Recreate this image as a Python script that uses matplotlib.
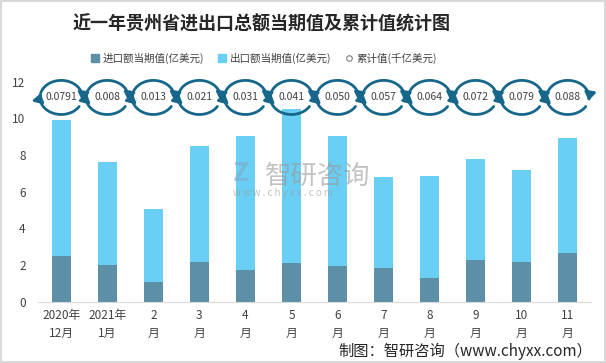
import numpy as np
import matplotlib
matplotlib.use('Agg')
import matplotlib.pyplot as plt
from matplotlib.patches import Patch, FancyArrowPatch, Rectangle
from matplotlib.lines import Line2D
from matplotlib.path import Path

plt.rcParams['font.family'] = ['Noto Sans CJK SC', 'DejaVu Sans']

# data
months = ['2020年\n12月', '2021年\n1月', '2\n月', '3\n月', '4\n月', '5\n月',
          '6\n月', '7\n月', '8\n月', '9\n月', '10\n月', '11\n月']
imports = [2.49, 2.00, 1.07, 2.17, 1.73, 2.11, 1.95, 1.84, 1.29, 2.27, 2.17, 2.66]
totals = [9.91, 7.62, 5.06, 8.49, 9.04, 10.51, 9.04, 6.80, 6.86, 7.79, 7.19, 8.93]
exports = [t - i for t, i in zip(totals, imports)]
cumulative = ['0.0791', '0.008', '0.013', '0.021', '0.031', '0.041',
              '0.050', '0.057', '0.064', '0.072', '0.079', '0.088']
ring_y = 11.14  # cumulative markers sit on one row above the bars

c_imp = '#5d8fa7'
c_exp = '#69cff5'
c_ring = '#17678a'
c_text = '#404040'

fig = plt.figure(figsize=(6.06, 3.63), dpi=100)
ax = fig.add_axes([0.063, 0.169, 0.912, 0.606])

x = np.arange(len(months))
ax.bar(x, imports, width=0.41, color=c_imp, zorder=2)
ax.bar(x, exports, width=0.41, bottom=imports, color=c_exp, zorder=2)

# circular-arrow markers with the cumulative values
rx, ry = 0.46, 0.93
for xi, lab in zip(x, cumulative):
    for a0, a1 in [(165, -10), (-32, -194)]:
        t = np.radians(np.linspace(a0, a1, 40))
        verts = np.column_stack([xi + rx * np.cos(t), ring_y + ry * np.sin(t)])
        arr = FancyArrowPatch(path=Path(verts), arrowstyle='-|>,head_length=0.45,head_width=0.32',
                              mutation_scale=10, lw=2.0, color=c_ring, clip_on=False, zorder=3)
        ax.add_patch(arr)
    ax.text(xi, ring_y, lab, ha='center', va='center', fontsize=7.5,
            color=c_text, zorder=4, clip_on=False)

ax.set_xlim(-0.5, len(months) - 0.5)
ax.set_ylim(0, 12)
ax.set_yticks(range(0, 13, 2))
ax.set_xticks(x)
ax.set_xticklabels(months, fontsize=8.5, color=c_text, linespacing=1.5)
ax.tick_params(axis='y', labelsize=8.5, labelcolor=c_text, length=0, pad=9)
ax.tick_params(axis='x', length=0, pad=5)
for s in ['top', 'right', 'left']:
    ax.spines[s].set_visible(False)
ax.spines['bottom'].set_color('#d9d9d9')

fig.text(0.431, 0.935, '近一年贵州省进出口总额当期值及累计值统计图', ha='center', va='center',
         fontsize=13, fontweight='bold', color='#262626')

handles = [Patch(color=c_imp), Patch(color=c_exp),
           Line2D([], [], marker='o', ls='none', markersize=4, markerfacecolor='white',
                  markeredgecolor='#7f7f7f', markeredgewidth=0.8)]
labels = ['进口额当期值(亿美元)', '出口额当期值(亿美元)', '累计值(千亿美元)']
fig.legend(handles, labels, loc='center', bbox_to_anchor=(0.436, 0.84), ncol=3,
           frameon=False, fontsize=7.6, handlelength=0.7, handleheight=0.7,
           handletextpad=0.4, columnspacing=1.3, labelcolor=c_text)

# watermark
fig.text(0.437, 0.515, '智研咨询', fontsize=19, color='#9a9a9a', alpha=0.6, va='center')
fig.text(0.384, 0.467, 'w w w . c h y x x . c o m', fontsize=7, color='#9a9a9a',
         alpha=0.6, va='center')
fig.text(0.384, 0.522, 'Z', fontsize=19, fontweight='bold', color='#7fa9cc', alpha=0.6,
         va='center')

fig.text(0.978, 0.033, '制图：智研咨询（www.chyxx.com）', ha='right', va='center',
         fontsize=11, color='#262626')

fig.add_artist(Rectangle((0.002, 0.003), 0.996, 0.994, transform=fig.transFigure,
                         fill=False, edgecolor='#d9d9d9', lw=1.5))

fig.savefig('out.png', dpi=100)
